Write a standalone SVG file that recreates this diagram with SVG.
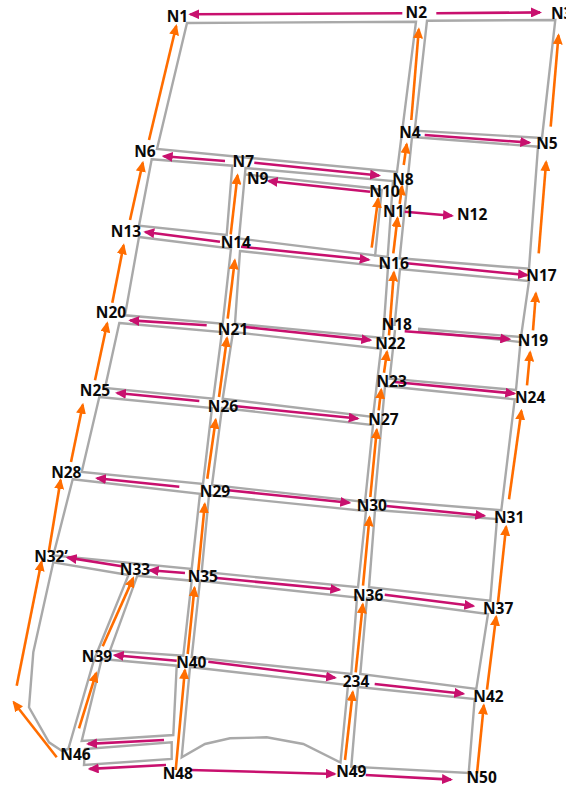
<svg xmlns="http://www.w3.org/2000/svg" width="566" height="786" viewBox="0 0 566 786">
<style>
.r{fill:none;stroke:#a9a9a9;stroke-width:2.4;stroke-linejoin:miter}
.m{stroke:#c8106e;stroke-width:2.6;fill:none;marker-end:url(#hm)}
.o{stroke:#ff6d00;stroke-width:2.6;fill:none;marker-end:url(#ho)}
text{font-family:"Noto Sans","Liberation Sans",sans-serif;font-weight:700;font-size:15.5px;fill:#0a0a0a;text-anchor:middle}
</style>
<defs>
<marker id="hm" markerUnits="userSpaceOnUse" markerWidth="11" markerHeight="10" refX="9" refY="5" orient="auto"><path d="M0 0L11 5L0 10Z" fill="#c8106e"/></marker>
<marker id="ho" markerUnits="userSpaceOnUse" markerWidth="11" markerHeight="10" refX="9" refY="5" orient="auto"><path d="M0 0L11 5L0 10Z" fill="#ff6d00"/></marker>
</defs>
<g id="roads">
<polygon class="r" points="187,23 416,21.7 397,172 157,149"/>
<polygon class="r" points="427,20.7 555.3,20 542,138 414.7,130.7"/>
<polygon class="r" points="412,137 538,146.7 529,268.7 399.7,258.3"/>
<polygon class="r" points="151.7,159.3 232.3,165.7 226.7,235 139,225.7"/>
<polygon class="r" points="245.5,168 393,181 387.7,257 239,238.5"/>
<polyline class="r" points="246,174.5 371,188 381.7,190 375,256.7"/>
<polygon class="r" points="139,237 231,248.5 222.7,323.7 125,315.3"/>
<polygon class="r" points="240,251 388,267 383,338 235,323.7"/>
<polyline class="r" points="394.5,326 400,269 529,281 521,337 418,328.7"/>
<polyline class="r" points="395,330 389.7,378.7 516,390 520.5,342 418,331 "/>
<polygon class="r" points="119.3,323 222,332 213.3,398.7 105,388"/>
<polygon class="r" points="233,332 381,348.7 373,417 222.7,398.7"/>
<polygon class="r" points="99.3,397 212,408 203,484 81.7,472"/>
<polygon class="r" points="222,408 373,425 365,502 212,485"/>
<polygon class="r" points="385,386 514.7,399.3 501.3,510.3 374.7,500"/>
<polygon class="r" points="72.7,479.3 200,493.7 191.7,569 53.3,555.5"/>
<polygon class="r" points="209,495 366,511 358,587.3 201.7,571.7"/>
<polygon class="r" points="375,510 497,519 490.3,600.7 369,587.3"/>
<polygon class="r" points="128.5,575 53.3,562.3 33.3,652.3 29,707.3 49,742.3 61.7,750.7 68.3,749 94,660"/>
<polygon class="r" points="137.3,575.7 191.7,580.7 183.3,655.7 110,650.7"/>
<polygon class="r" points="101.7,659 176.7,665.7 173.3,735 81.7,741"/>
<polygon class="r" points="85,749 171.7,742.3 171.7,759 84,765"/>
<polygon class="r" points="200,580.7 357,597.5 351.3,674 191.7,657.3"/>
<polygon class="r" points="367,598 488,614 476.3,689 360.3,674"/>
<polygon class="r" points="190,667 348,685 340.5,762.5 303.3,744 266.7,737.3 230,738.3 205,744 181.7,757.3"/>
<polygon class="r" points="358,687 474.7,699 468.7,773 351.3,766.7"/>
</g>
<g id="connectors">
<path class="m" d="M402.3 13.3L190.3 14.3"/>
<path class="m" d="M436.3 13.3L540 12.4"/>
<path class="m" d="M424.7 135L529.3 142.6"/>
<path class="m" d="M225 161L163.7 156.2"/>
<path class="m" d="M254.3 162.7L379 175.5"/>
<path class="m" d="M370 191.7L268.7 181"/>
<path class="m" d="M404.7 211.7L452 215.8"/>
<path class="m" d="M220 241.7L145.3 232"/>
<path class="m" d="M241 246.7L368.7 259.8"/>
<path class="m" d="M406.7 263.3L527 275.1"/>
<path class="m" d="M206.7 325.3L130.3 320.4"/>
<path class="m" d="M245 327L370.3 340.1"/>
<path class="m" d="M404.7 331.3L509.3 339.1"/>
<path class="m" d="M394.7 382L514.3 393.5"/>
<path class="m" d="M199.3 401L117 393"/>
<path class="m" d="M236.7 406.3L357.7 418.5"/>
<path class="m" d="M179.3 486.7L97 478.2"/>
<path class="m" d="M228.3 490.3L349.3 502.8"/>
<path class="m" d="M386.3 506L484.3 515.8"/>
<path class="m" d="M185 573L149.7 570.2"/>
<path class="m" d="M121.7 566.3L67.7 557.6"/>
<path class="m" d="M216.7 578L339.3 589.8"/>
<path class="m" d="M384.7 594.7L473.3 606"/>
<path class="m" d="M176.7 660.7L114.7 655.2"/>
<path class="m" d="M208.3 661.7L335 677.7"/>
<path class="m" d="M374.7 684L463.3 693.8"/>
<path class="m" d="M164 740L88 743.9"/>
<path class="m" d="M166 765L89.7 768.9"/>
<path class="m" d="M190 770L334.7 774"/>
<path class="m" d="M365.7 775L451 779.6"/>
<path class="o" d="M149 140L176.2 26"/>
<path class="o" d="M130 220L142.8 162.7"/>
<path class="o" d="M112.3 302.7L123.6 245.3"/>
<path class="o" d="M95 380.3L107.2 323.3"/>
<path class="o" d="M71 462L82.8 404.7"/>
<path class="o" d="M49 550.7L60.6 480"/>
<path class="o" d="M16.7 685.7L41.4 562"/>
<path class="o" d="M56.7 757.3L13.7 702.2"/>
<path class="o" d="M79 728.3L96.1 673.2"/>
<path class="o" d="M102.7 646.3L133.2 578.1"/>
<path class="o" d="M175.7 770L184.9 670"/>
<path class="o" d="M187.7 654L194.5 587.7"/>
<path class="o" d="M198.3 570.7L204.8 504"/>
<path class="o" d="M207.3 478.7L215.7 419.7"/>
<path class="o" d="M219 397L227 338"/>
<path class="o" d="M227.7 318.7L234.8 260.3"/>
<path class="o" d="M230.7 234.3L237.5 175.3"/>
<path class="o" d="M345 760L352.8 692"/>
<path class="o" d="M355.7 672.3L362.8 604.3"/>
<path class="o" d="M363 585.7L369.5 517.3"/>
<path class="o" d="M370.3 497L376.8 429.7"/>
<path class="o" d="M378.7 410.3L381.2 389.7"/>
<path class="o" d="M384 372.7L387 351.7"/>
<path class="o" d="M389 335.3L393.9 272.3"/>
<path class="o" d="M393.3 253.3L397.5 218"/>
<path class="o" d="M399.7 204L402 186.3"/>
<path class="o" d="M403.7 165L406.7 144.3"/>
<path class="o" d="M411.3 120L418.8 29.3"/>
<path class="o" d="M371.7 247.7L378.1 198.7"/>
<path class="o" d="M509 499.3L521.4 410.7"/>
<path class="o" d="M527 385.3L530.1 352.3"/>
<path class="o" d="M533 330.3L535.9 293.3"/>
<path class="o" d="M538.7 253.3L546.1 162"/>
<path class="o" d="M550.7 126.7L558.5 35.3"/>
<path class="o" d="M498 602.3L506.1 526.7"/>
<path class="o" d="M487 689.7L496.1 616.7"/>
<path class="o" d="M477 773.3L483.8 705.3"/>
</g>
<g id="N1"><text x="177.5" y="22">N1</text></g>
<g id="N2"><text x="416.3" y="18">N2</text></g>
<g id="N3"><text x="551" y="19" style="text-anchor:start">N3</text></g>
<g id="N4"><text x="410" y="138">N4</text></g>
<g id="N5"><text x="547" y="148.7">N5</text></g>
<g id="N6"><text x="145" y="157">N6</text></g>
<g id="N7"><text x="243.3" y="166.7">N7</text></g>
<g id="N8"><text x="403" y="184.7">N8</text></g>
<g id="N9"><text x="257.7" y="184">N9</text></g>
<g id="N10"><text x="384.5" y="196.7">N10</text></g>
<g id="N11"><text x="398.2" y="216.7">N11</text></g>
<g id="N12"><text x="472.2" y="220">N12</text></g>
<g id="N13"><text x="126" y="237.3">N13</text></g>
<g id="N14"><text x="235.8" y="248.3">N14</text></g>
<g id="N16"><text x="393.7" y="269.3">N16</text></g>
<g id="N17"><text x="541.5" y="281.3">N17</text></g>
<g id="N18"><text x="396.8" y="330.3">N18</text></g>
<g id="N19"><text x="533" y="346">N19</text></g>
<g id="N20"><text x="111" y="317.7">N20</text></g>
<g id="N21"><text x="233" y="334.7">N21</text></g>
<g id="N22"><text x="390.3" y="349.3">N22</text></g>
<g id="N23"><text x="391.7" y="387">N23</text></g>
<g id="N24"><text x="530.2" y="403">N24</text></g>
<g id="N25"><text x="95" y="396.3">N25</text></g>
<g id="N26"><text x="223" y="412">N26</text></g>
<g id="N27"><text x="383.5" y="425.3">N27</text></g>
<g id="N28"><text x="66.3" y="477.7">N28</text></g>
<g id="N29"><text x="215" y="497">N29</text></g>
<g id="N30"><text x="371.8" y="511">N30</text></g>
<g id="N31"><text x="509.2" y="522.7">N31</text></g>
<g id="N32p"><text x="51" y="561.7">N32’</text></g>
<g id="N33"><text x="135" y="574.7">N33</text></g>
<g id="N35"><text x="202.8" y="582.3">N35</text></g>
<g id="N36"><text x="368.2" y="600.7">N36</text></g>
<g id="N37"><text x="498.2" y="614">N37</text></g>
<g id="N39"><text x="97" y="662">N39</text></g>
<g id="N40"><text x="191.3" y="667.7">N40</text></g>
<g id="N234"><text x="356" y="687.3">234</text></g>
<g id="N42"><text x="488.5" y="702.3">N42</text></g>
<g id="N46"><text x="75.5" y="760">N46</text></g>
<g id="N48"><text x="177.8" y="779">N48</text></g>
<g id="N49"><text x="351.3" y="777.3">N49</text></g>
<g id="N50"><text x="481.7" y="783">N50</text></g>
</svg>
